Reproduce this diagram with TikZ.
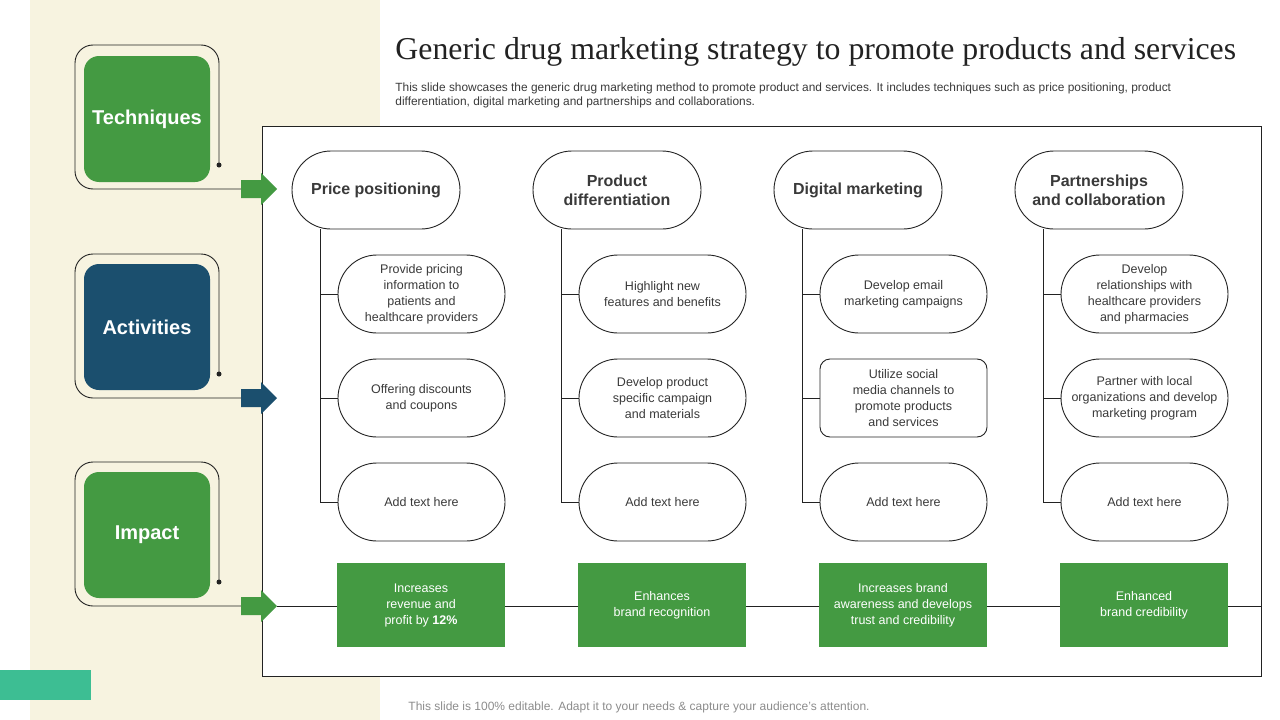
\documentclass[tikz,border=0pt]{standalone}
\usepackage{fontspec}
\setmainfont{Liberation Sans}
\newfontfamily\titlefont{Liberation Serif}
\usetikzlibrary{positioning}
\definecolor{mkGreen}{HTML}{449A42}
\definecolor{mkBlue}{HTML}{1B4F6E}
\definecolor{mkTeal}{HTML}{3DBE93}
\definecolor{mkBeige}{HTML}{F7F3E0}
\definecolor{mkLine}{HTML}{222222}
\definecolor{mkText}{HTML}{3A3A3A}
\definecolor{mkGray}{HTML}{8C8C8C}

\begin{document}
\begin{tikzpicture}[x=1pt,y=-1pt,line width=0.9pt,
      head/.style={draw=mkLine,fill=white,rounded corners=39pt,align=center,minimum width=168pt,minimum height=78pt,
        text=mkText,font=\fontsize{16}{19}\selectfont\bfseries},
      pill/.style={draw=mkLine,fill=white,rounded corners=39pt,align=center,minimum width=167pt,minimum height=78pt,
        text=mkText,font=\fontsize{12.5}{16}\selectfont},
      card/.style={rounded corners=15pt,minimum width=126pt,minimum height=126pt,text=white,font=\fontsize{20}{24}\selectfont\bfseries},
      res/.style={fill=mkGreen,align=center,minimum width=168pt,minimum height=84pt,text=white,font=\fontsize{12.5}{16}\selectfont}]
      \useasboundingbox (0,0) rectangle (1280,720);
      \fill[mkBeige] (30,0) rectangle (380,720);
      \fill[mkTeal] (0,670) rectangle (91,700);
      % title and notes
      \node[anchor=base west,inner sep=0,text=mkLine,font=\titlefont\fontsize{31.8}{36}\selectfont] (title) at (395,59)
        {Generic drug marketing strategy to promote products and services};
      \node[anchor=north west,inner sep=0,align=left,text=mkText,font=\fontsize{11.9}{14}\selectfont] (sub) at (395,82)
        {This slide showcases the generic drug marketing method to promote product and services. It includes techniques such as price positioning, product\\
         differentiation, digital marketing and partnerships and collaborations.};
      \node[anchor=base west,inner sep=0,text=mkGray,font=\fontsize{12}{14}\selectfont] (foot) at (408,710)
        {This slide is 100\% editable. Adapt it to your needs \& capture your audience’s attention.};
      \node[draw=mkLine,fill=white,minimum width=999pt,minimum height=550pt] (frame) at (761.5,401) {};
      % left cards
      \node[card,fill=mkGreen] (tech) at (147,119) {Techniques};
      \node[card,fill=mkBlue] (act) at (147,327) {Activities};
      \node[card,fill=mkGreen] (imp) at (147,535) {Impact};
      \foreach \t in {45,254,462} {
        \draw[mkLine,rounded corners=18pt] (219,\t+120) -- (219,\t) -- (75,\t) -- (75,\t+144) -- (241,\t+144);
        \fill[mkLine] (219,\t+120) circle (2.5pt);
      }
      \foreach \y/\c in {189/mkGreen,398/mkBlue,606/mkGreen}
        \fill[\c] (241,\y-9) -- (261,\y-9) -- (261,\y-16) -- (277,\y) -- (261,\y+16) -- (261,\y+9) -- (241,\y+9) -- cycle;
      \coordinate (tip) at (277,606);
      % columns
      \node[head] (h1) at (376,190) {Price positioning};
      \node[head] (h2) at (617,190) {Product\\differentiation};
      \node[head] (h3) at (858,190) {Digital marketing};
      \node[head] (h4) at (1099,190) {Partnerships\\and collaboration};
      \node[pill] (p1-1) at (421.5,294) {Provide pricing\\information to\\patients and\\healthcare providers};
      \node[pill] (p1-2) at (421.5,398) {Offering discounts\\and coupons};
      \node[pill] (p1-3) at (421.5,502) {Add text here};
      \node[pill] (p2-1) at (662.5,294) {Highlight new\\features and benefits};
      \node[pill] (p2-2) at (662.5,398) {Develop product\\specific campaign\\and materials};
      \node[pill] (p2-3) at (662.5,502) {Add text here};
      \node[pill] (p3-1) at (903.5,294) {Develop email\\marketing campaigns};
      \node[pill,rounded corners=10pt] (p3-2) at (903.5,398) {Utilize social\\media channels to\\promote products\\and services};
      \node[pill] (p3-3) at (903.5,502) {Add text here};
      \node[pill] (p4-1) at (1144.5,294) {Develop\\relationships with\\healthcare providers\\and pharmacies};
      \node[pill] (p4-2) at (1144.5,398) {Partner with local\\organizations and develop\\marketing program};
      \node[pill] (p4-3) at (1144.5,502) {Add text here};
      \foreach \c in {1,...,4} {
        \draw[mkLine] ([xshift=-56pt]h\c.south) |- (p\c-3.west);
        \draw[mkLine] (p\c-1.west) -- ++(-18,0);
        \draw[mkLine] (p\c-2.west) -- ++(-18,0);
      }
      % impact row
      \draw[mkLine] (tip) -- (frame.east |- tip);
      \node[res] (g1) at (421,605) {Increases\\revenue and\\profit by \textbf{12\%}};
      \node[res] (g2) at (662,605) {Enhances\\brand recognition};
      \node[res] (g3) at (903,605) {Increases brand\\awareness and develops\\trust and credibility};
      \node[res] (g4) at (1144,605) {Enhanced\\brand credibility};
    \end{tikzpicture}
\end{document}
